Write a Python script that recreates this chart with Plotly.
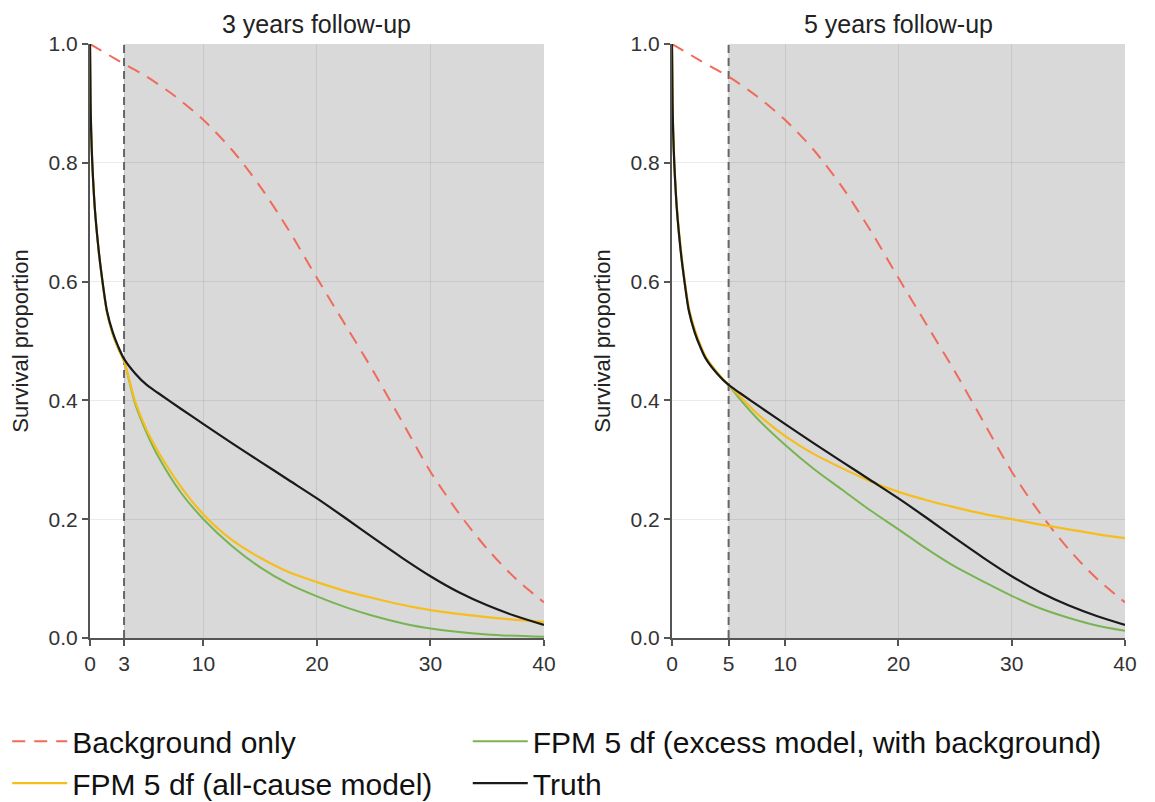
import plotly.graph_objects as go
from plotly.subplots import make_subplots

# ---------------- data ----------------
t_bg = [0, 2.5, 5, 7.5, 10, 12.5, 15, 17.5, 20, 22.5, 25, 27.5, 30, 32.5, 35, 37.5, 40]
s_bg = [1.0, 0.972, 0.945, 0.912, 0.872, 0.822, 0.76, 0.687, 0.606, 0.527, 0.448, 0.364, 0.28, 0.21, 0.15, 0.1, 0.06]

t_truth = [0, 0.05, 0.1, 0.2, 0.35, 0.5, 0.75, 1, 1.5, 2, 2.5, 3, 4, 5, 6, 8, 10,
           12.5, 15, 17.5, 20, 22.5, 25, 27.5, 30, 32.5, 35, 37.5, 40]
s_truth = [1.0, 0.9, 0.855, 0.8, 0.745, 0.705, 0.655, 0.615, 0.55, 0.515, 0.49, 0.47, 0.445, 0.426, 0.4125, 0.386, 0.36,
           0.328, 0.297, 0.266, 0.235, 0.202, 0.168, 0.135, 0.104, 0.077, 0.055, 0.037, 0.022]

# 3 years follow-up fits
t_fit3 = [0, 0.05, 0.1, 0.2, 0.35, 0.5, 0.75, 1, 1.5, 2, 2.5, 3, 4, 5, 6, 8, 10,
          12.5, 15, 17.5, 20, 22.5, 25, 27.5, 30, 35, 40]
s_allcause3 = [1.0, 0.9, 0.856, 0.8, 0.745, 0.705, 0.655, 0.614, 0.548, 0.512, 0.487, 0.466, 0.397, 0.35, 0.314, 0.255, 0.208,
               0.165, 0.135, 0.111, 0.094, 0.079, 0.067, 0.056, 0.047, 0.035, 0.027]
s_excess3 = [1.0, 0.9, 0.856, 0.8, 0.745, 0.705, 0.655, 0.614, 0.548, 0.512, 0.487, 0.466, 0.393, 0.345, 0.306, 0.245, 0.2,
             0.155, 0.119, 0.091, 0.07, 0.052, 0.037, 0.025, 0.016, 0.006, 0.002]

# 5 years follow-up fits
t_fit5 = [0, 0.05, 0.1, 0.2, 0.35, 0.5, 0.75, 1, 1.5, 2, 2.5, 3, 4, 5, 6, 7.5, 10,
          12.5, 15, 17.5, 20, 22.5, 25, 27.5, 30, 32.5, 35, 37.5, 40]
s_allcause5 = [1.0, 0.9, 0.857, 0.803, 0.75, 0.71, 0.66, 0.62, 0.555, 0.52, 0.494, 0.473, 0.447, 0.426, 0.407, 0.378, 0.34,
               0.31, 0.286, 0.264, 0.246, 0.232, 0.22, 0.209, 0.2, 0.191, 0.183, 0.175, 0.168]
s_excess5 = [1.0, 0.9, 0.856, 0.8, 0.745, 0.705, 0.655, 0.615, 0.55, 0.515, 0.49, 0.47, 0.445, 0.426, 0.402, 0.37, 0.325,
             0.285, 0.25, 0.215, 0.183, 0.15, 0.12, 0.095, 0.071, 0.05, 0.034, 0.021, 0.012]

panel_titles = ["3 years follow-up", "5 years follow-up"]
cutoffs = [3, 5]
x_ticks_left = [0, 3, 10, 20, 30, 40]
x_ticks_right = [0, 5, 10, 20, 30, 40]
y_ticks = [0.0, 0.2, 0.4, 0.6, 0.8, 1.0]

names = ["Background only", "FPM 5 df (excess model, with background)",
         "FPM 5 df (all-cause model)", "Truth"]

# ---------------- styles ----------------
C_RED = "#EF6B5B"
C_GREEN = "#78B452"
C_YELLOW = "#F5BE1E"
C_BLACK = "#1a1a1a"
FONT = "Liberation Sans, Arial, sans-serif"

fig = make_subplots(rows=1, cols=2, subplot_titles=panel_titles)

panels = [
    (1, t_fit3, s_excess3, s_allcause3, x_ticks_left),
    (2, t_fit5, s_excess5, s_allcause5, x_ticks_right),
]

for col, t_fit, s_exc, s_all, xt in panels:
    show = col == 1
    fig.add_trace(go.Scatter(x=t_bg, y=s_bg, mode="lines", name=names[0], legend="legend", legendrank=1,
                             line=dict(color=C_RED, width=2, dash="13px,9px", shape="spline", smoothing=0.8),
                             showlegend=show), row=1, col=col)
    fig.add_trace(go.Scatter(x=t_fit, y=s_exc, mode="lines", name=names[1], legend="legend2", legendrank=1,
                             line=dict(color=C_GREEN, width=2, shape="spline", smoothing=0.8),
                             showlegend=show), row=1, col=col)
    fig.add_trace(go.Scatter(x=t_fit, y=s_all, mode="lines", name=names[2], legend="legend", legendrank=2,
                             line=dict(color=C_YELLOW, width=2.2, shape="spline", smoothing=0.8),
                             showlegend=show), row=1, col=col)
    fig.add_trace(go.Scatter(x=t_truth, y=s_truth, mode="lines", name=names[3], legend="legend2", legendrank=2,
                             line=dict(color=C_BLACK, width=2.2, shape="spline", smoothing=0.8),
                             showlegend=show), row=1, col=col)

    cut = cutoffs[col - 1]
    xref = "x" if col == 1 else "x2"
    yref = "y" if col == 1 else "y2"
    fig.add_shape(type="rect", x0=cut, x1=40, y0=0, y1=1, xref=xref, yref=yref,
                  fillcolor="#d9d9d9", line=dict(width=0), layer="below")
    fig.add_shape(type="line", x0=cut, x1=cut, y0=0, y1=1, xref=xref, yref=yref,
                  line=dict(color="#666666", width=2, dash="8px,5px"), layer="between")

    fig.update_xaxes(row=1, col=col, range=[0, 40], tickvals=xt, ticktext=[str(v) for v in xt],
                     showline=True, linecolor="#555555", linewidth=2, ticks="outside", ticklen=6,
                     tickcolor="#555555", tickwidth=1.5, showgrid=True, gridcolor="rgba(0,0,0,0.08)",
                     gridwidth=1, zeroline=False, tickfont=dict(family=FONT, size=21, color="#333333"))
    fig.update_yaxes(row=1, col=col, range=[0, 1], tickvals=y_ticks, tickformat=".1f",
                     showline=True, linecolor="#555555", linewidth=2, ticks="outside", ticklen=6,
                     tickcolor="#555555", tickwidth=1.5, showgrid=True, gridcolor="rgba(0,0,0,0.08)",
                     gridwidth=1, zeroline=False, tickfont=dict(family=FONT, size=21, color="#333333"),
                     title=dict(text="Survival proportion", font=dict(family=FONT, size=22, color="#222222"),
                                standoff=14))

legend_common = dict(orientation="v", yanchor="top", xanchor="left", y=-0.13,
                     font=dict(family=FONT, size=30, color="#111111"), bgcolor="rgba(0,0,0,0)",
                     tracegroupgap=0, itemwidth=55)

fig.update_layout(
    width=1155, height=802,
    margin=dict(l=90, r=30, t=44, b=164, autoexpand=False),
    paper_bgcolor="white", plot_bgcolor="white",
    xaxis=dict(domain=[0, 0.4386]),
    xaxis2=dict(domain=[0.5623, 1.0]),
    font=dict(family=FONT, color="#222222"),
    legend=dict(x=-0.080, **legend_common),
    legend2=dict(x=0.365, **legend_common),
)

# subplot titles
for i, ann in enumerate(fig.layout.annotations):
    ann.font = dict(family=FONT, size=25, color="#222222")
    ann.y = 1.0
    ann.yshift = 4
    ann.x = [0.4386 / 2, (0.5623 + 1.0) / 2][i]

fig.write_html("out.html")
